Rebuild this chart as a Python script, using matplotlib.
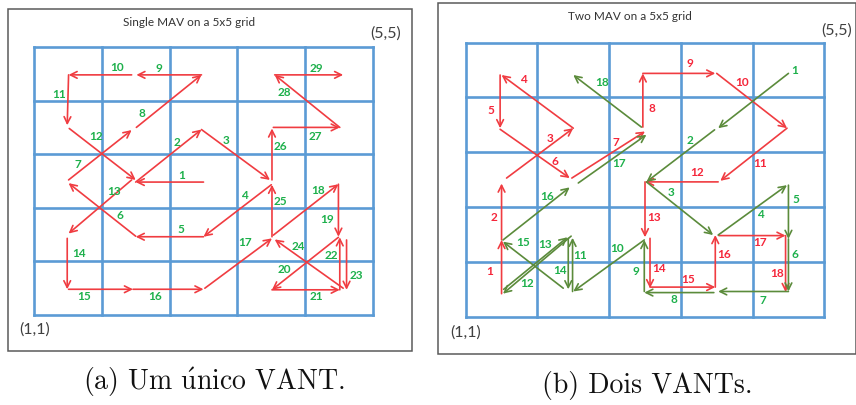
import matplotlib
matplotlib.use("Agg")
import matplotlib.pyplot as plt
from matplotlib.patches import Rectangle

W, H = 856, 405

# Moves as (x0, y0, x1, y1) in grid cells, origin at the (1,1) corner.
single_moves = [
    (2.50, 2.48, 1.50, 2.48), (1.50, 2.48, 2.47, 3.46), (2.47, 3.46, 3.48, 2.52),
    (3.50, 2.43, 2.50, 1.46), (2.50, 1.46, 1.50, 1.46), (1.50, 1.47, 0.51, 2.46),
    (0.51, 2.52, 1.44, 3.45), (1.51, 3.50, 2.47, 4.48), (2.47, 4.48, 1.51, 4.48),
    (1.44, 4.48, 0.51, 4.48), (0.51, 4.48, 0.49, 3.54), (0.52, 3.48, 1.50, 2.52),
    (1.44, 2.52, 0.51, 1.52), (0.49, 1.43, 0.49, 0.48), (0.51, 0.48, 1.46, 0.48),
    (1.46, 0.48, 2.50, 0.48), (2.52, 0.50, 3.51, 1.43), (3.53, 1.49, 4.49, 2.44),
    (4.49, 2.44, 4.49, 1.46), (4.49, 1.45, 3.51, 0.47), (3.51, 0.47, 4.51, 0.47),
    (4.51, 0.47, 4.51, 1.45), (4.61, 1.40, 4.61, 0.47), (4.56, 0.50, 3.55, 1.41),
    (3.51, 1.46, 3.51, 2.43), (3.51, 2.52, 3.51, 3.48), (3.53, 3.50, 4.51, 3.50),
    (4.51, 3.50, 3.55, 4.48), (3.55, 4.48, 4.56, 4.48),
]
single_labels = [
    (2.18, 2.60), (2.11, 3.21), (2.83, 3.25), (3.11, 2.23), (2.17, 1.60),
    (1.27, 1.85), (0.64, 2.81), (1.59, 3.76), (1.84, 4.60), (1.22, 4.62),
    (0.37, 4.12), (0.91, 3.33), (1.18, 2.30), (0.67, 1.15), (0.74, 0.34),
    (1.78, 0.34), (3.12, 1.35), (4.19, 2.33), (4.32, 1.79), (3.69, 0.85),
    (4.16, 0.34), (4.38, 1.11), (4.75, 0.74), (3.90, 1.27), (3.63, 2.11),
    (3.64, 3.14), (4.15, 3.33), (3.69, 4.15), (4.16, 4.60),
]

two_red_moves = [
    (0.50, 0.42, 0.50, 1.40), (0.50, 1.40, 0.50, 2.43), (0.57, 2.53, 1.50, 3.44),
    (1.50, 3.44, 0.50, 4.41), (0.48, 4.41, 0.48, 3.44), (0.48, 3.42, 1.45, 2.53),
    (1.48, 2.53, 2.50, 3.38), (2.47, 3.46, 2.47, 4.44), (2.47, 4.44, 3.48, 4.44),
    (3.50, 4.44, 4.48, 3.44), (4.48, 3.44, 3.55, 2.48), (3.52, 2.46, 2.50, 2.46),
    (2.50, 2.46, 2.50, 1.45), (2.57, 1.43, 2.57, 0.52), (2.57, 0.54, 3.48, 0.54),
    (3.48, 0.54, 3.48, 1.49), (3.53, 1.48, 4.46, 1.48), (4.46, 1.48, 4.46, 0.45),
]
two_red_labels = [
    (0.34, 0.82), (0.39, 1.81), (1.18, 3.25), (0.80, 4.32), (0.35, 3.76),
    (1.25, 2.83), (2.09, 3.18), (2.59, 3.80), (3.13, 4.62), (3.85, 4.27),
    (4.11, 2.80), (3.22, 2.63), (2.62, 1.81), (2.69, 0.88), (3.10, 0.68),
    (3.61, 1.13), (4.10, 1.35), (4.34, 0.79),
]

two_green_moves = [
    (4.50, 4.44, 3.52, 3.44), (3.47, 3.41, 2.52, 2.46), (2.52, 2.46, 3.45, 1.49),
    (3.52, 1.49, 4.48, 2.40), (4.50, 2.40, 4.50, 1.42), (4.50, 1.42, 4.50, 0.46),
    (4.50, 0.46, 3.52, 0.46), (3.46, 0.44, 2.49, 0.44), (2.49, 0.46, 2.49, 1.40),
    (2.49, 1.40, 1.50, 0.46), (1.49, 0.46, 1.49, 1.44), (1.47, 1.47, 0.52, 0.42),
    (0.53, 0.50, 1.42, 1.45), (1.43, 1.43, 1.43, 0.50), (1.36, 0.52, 0.52, 1.37),
    (0.52, 1.40, 1.45, 2.36), (1.57, 2.44, 2.52, 3.32), (2.45, 3.46, 1.50, 4.41),
]
two_green_labels = [
    (4.58, 4.50), (3.12, 3.22), (2.86, 2.27), (4.11, 1.87), (4.60, 2.13),
    (4.59, 1.13), (4.15, 0.29), (2.90, 0.32), (2.38, 0.82), (2.11, 1.24),
    (1.60, 1.11), (0.86, 0.61), (1.10, 1.31), (1.31, 0.85), (0.80, 1.35),
    (1.14, 2.20), (2.14, 2.80), (1.90, 4.28),
]

GRID = "#5b9bd5"
RED = "#f03c41"
RED_TXT = "#f5263a"
GREEN_TXT = "#1db04b"
GREEN_LINE = "#5b8b3b"
FRAME = "#5a5a5a"
LABEL_FONT = dict(family="Lato", fontweight="bold", fontsize=8.5)

plt.rcParams["mathtext.fontset"] = "cm"


def fig_xy(x, y):
    # pixel position (from the top-left) to figure fraction
    return x / W, 1 - y / H


def add_frame(fig, x0, y0, x1, y1):
    fx, fy = fig_xy(x0, y1)
    fig.add_artist(Rectangle((fx, fy), (x1 - x0) / W, (y1 - y0) / H,
                             transform=fig.transFigure, fill=False,
                             edgecolor=FRAME, linewidth=1.1))


def grid_axes(fig, x0, y0, x1, y1):
    fx, fy = fig_xy(x0, y1)
    ax = fig.add_axes([fx, fy, (x1 - x0) / W, (y1 - y0) / H])
    ax.set_xlim(0, 5)
    ax.set_ylim(0, 5)
    ax.axis("off")
    for k in range(6):
        ax.plot([k, k], [0, 5], color=GRID, lw=1.9, clip_on=False,
                solid_capstyle="projecting", zorder=1)
        ax.plot([0, 5], [k, k], color=GRID, lw=1.9, clip_on=False,
                solid_capstyle="projecting", zorder=1)
    return ax


def draw_moves(ax, moves, labels, line_color, text_color):
    for (x0, y0, x1, y1), (lx, ly), n in zip(moves, labels, range(1, len(moves) + 1)):
        ax.annotate("", xy=(x1, y1), xytext=(x0, y0),
                    arrowprops=dict(arrowstyle="->", color=line_color, lw=1.2,
                                    shrinkA=0, shrinkB=0, mutation_scale=12),
                    zorder=3)
        ax.text(lx, ly, str(n), color=text_color, ha="center", va="center",
                zorder=4, **LABEL_FONT)


fig = plt.figure(figsize=(W / 100, H / 100), dpi=100)
fig.patch.set_facecolor("white")

# (a) single vehicle
add_frame(fig, 8, 9, 412, 351)
ax_a = grid_axes(fig, 34, 47, 373, 315)
draw_moves(ax_a, single_moves, single_labels, RED, GREEN_TXT)
fig.text(*fig_xy(189, 22), "Single MAV on a 5x5 grid", family="Lato",
         fontsize=8.5, color="#333333", ha="center", va="center")
fig.text(*fig_xy(386, 34), "(5,5)", family="Lato", fontsize=11.5,
         color="#404040", ha="center", va="center")
fig.text(*fig_xy(35, 330), "(1,1)", family="Lato", fontsize=11.5,
         color="#404040", ha="center", va="center")

# (b) two vehicles
add_frame(fig, 438, 3, 855.5, 354)
ax_b = grid_axes(fig, 465.7, 42.7, 824.3, 316.7)
draw_moves(ax_b, two_red_moves, two_red_labels, RED, RED_TXT)
draw_moves(ax_b, two_green_moves, two_green_labels, GREEN_LINE, GREEN_TXT)
fig.text(*fig_xy(630, 17), "Two MAV on a 5x5 grid", family="Lato",
         fontsize=8.5, color="#333333", ha="center", va="center")
fig.text(*fig_xy(837, 31), "(5,5)", family="Lato", fontsize=11.5,
         color="#404040", ha="center", va="center")
fig.text(*fig_xy(466, 333), "(1,1)", family="Lato", fontsize=11.5,
         color="#404040", ha="center", va="center")

# captions, Computer Modern look; the accented u goes through mathtext
cap_font = dict(family="cmr10", fontsize=20, color="#111111")
fig.text(*fig_xy(214, 381), r"(a) Um $\mathrm{\acute{u}}$nico VANT.",
         ha="center", va="center", **cap_font)
fig.text(*fig_xy(647, 385), "(b) Dois VANTs.", ha="center", va="center", **cap_font)

fig.savefig("out.png", dpi=100)
